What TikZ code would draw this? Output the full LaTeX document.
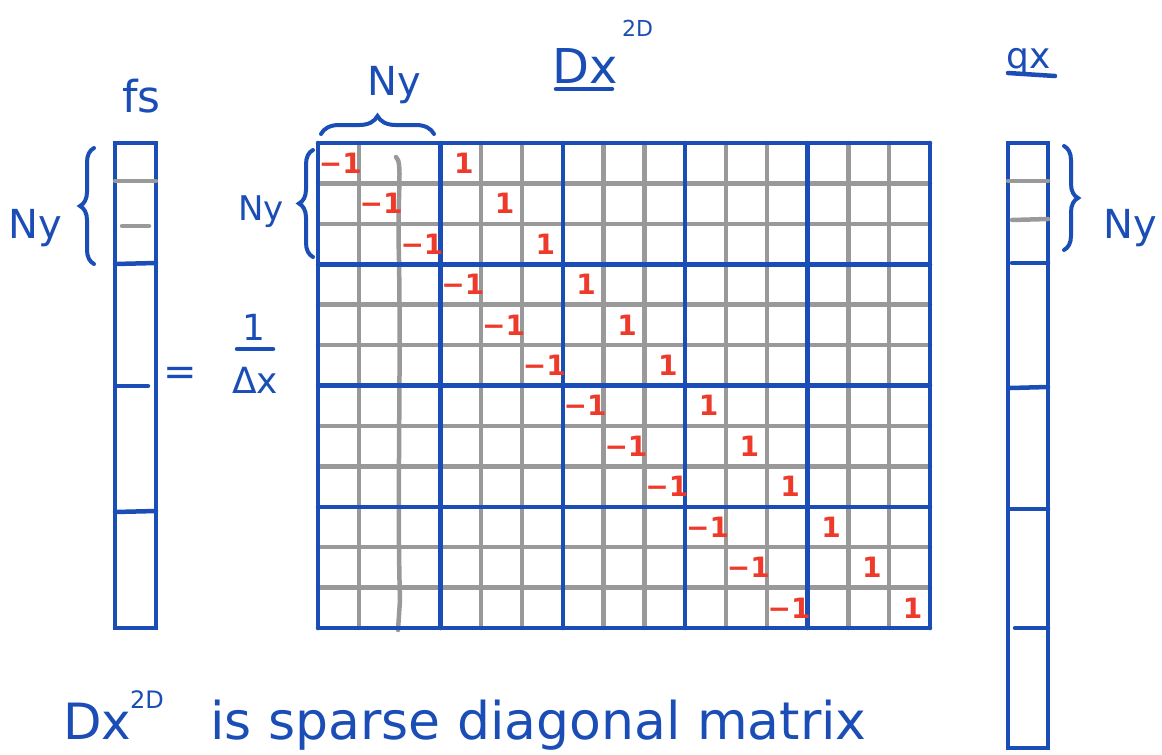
\documentclass[tikz,border=0pt]{standalone}
\usepackage{fontspec}
\setmainfont{DejaVu Sans}
\usetikzlibrary{decorations.pathreplacing}
\definecolor{pblue}{HTML}{1A4DB5}
\definecolor{pred}{HTML}{EE3A2A}
\definecolor{pgray}{HTML}{999999}
\begin{document}
\begin{tikzpicture}[x=1pt,y=-1pt,
  bl/.style={pblue, line width=4.5pt, line cap=round},
  gr/.style={pgray, line width=4.5pt, line cap=round},
  lab/.style={text=pblue, inner sep=0pt, anchor=base west},
  ent/.style={text=pred, inner sep=0pt, font=\fontsize{28}{28}\selectfont\bfseries},
  brc/.style={pblue, line width=4pt, line cap=round, decorate, decoration={brace, amplitude=#1}},
  brc/.default=14pt]
\useasboundingbox (0,0) rectangle (1162,755);

% ---- matrix grid: gray lines ----
\foreach \i in {1,4,5,7,8,10,11,13,14}
  \draw[gr] ({318+\i*40.8},143) -- ({318+\i*40.8},628);
\draw[gr] (396,157) .. controls (403,163) and (397,190) .. (399,260)
  .. controls (401,380) and (397,500) .. (400,600) -- (398,630);
\foreach \j in {1,2,4,5,7,8,10,11}
  \draw[gr] (318,{143+\j*40.42}) -- (930,{143+\j*40.42});
% ---- matrix grid: blue block lines ----
\foreach \i in {0,3,6,9,12,15}
  \draw[bl] ({318+\i*40.8},143) -- ({318+\i*40.8},628);
\foreach \j in {0,3,6,9,12}
  \draw[bl] (318,{143+\j*40.42}) -- (930,{143+\j*40.42});

% ---- entries ----
\foreach \i in {0,...,11}{
  \node[ent] (m\i) at ({318+(\i+0.5)*40.8+2},{143+(\i+0.5)*40.42}) {−1};
  \node[ent] (p\i) at ({318+(\i+3.5)*40.8+3},{143+(\i+0.5)*40.42}) {1};
}

% ---- fs vector ----
\node[draw=pblue, line width=4.5pt, minimum width=41pt, minimum height=485pt, inner sep=0pt] (fsv) at (135.5,385.5) {};
\draw[gr] (115,181) -- (156,181);
\draw[gr] (122,226) -- (149,226);
\draw[bl] (115,264) -- (156,263);
\draw[bl] (117,386) -- (148,386);
\draw[bl] (115,512) -- (156,511);

% ---- qx vector ----
\node[draw=pblue, line width=4.5pt, minimum width=40pt, minimum height=605pt, inner sep=0pt] (qxv) at (1028,445.5) {};
\draw[gr] (1008,181) -- (1048,181);
\draw[gr] (1012,220) -- (1048,219);
\draw[bl] (1012,263) -- (1048,263);
\draw[bl] (1010,388) -- (1048,387);
\draw[bl] (1010,509) -- (1048,509);
\draw[bl] (1015,628) -- (1048,628);

% ---- labels ----
\node[lab, font=\fontsize{44}{44}\selectfont] (fs) at (122,112) {fs};
\node[lab, font=\fontsize{40}{40}\selectfont] (ny1) at (8,238) {Ny};
\node[lab, font=\fontsize{34}{34}\selectfont] (ny2) at (238,220) {Ny};
\node[lab, font=\fontsize{40}{40}\selectfont] (ny3) at (367,95) {Ny};
\node[lab, font=\fontsize{40}{40}\selectfont] (ny4) at (1103,238) {Ny};
\node[lab, font=\fontsize{48}{48}\selectfont] (dx) at (552,83) {Dx};
\node[lab, font=\fontsize{22}{22}\selectfont] (dxs) at (622,36) {2D};
\draw[bl] (556,89) -- (612,89);
\node[lab, font=\fontsize{36}{36}\selectfont] (qx) at (1006,68) {qx};
\draw[bl] (1008,73) -- (1055,76);

\node[lab, font=\fontsize{40}{40}\selectfont] (eq) at (163,385) {=};
\node[text=pblue, inner sep=0pt, font=\fontsize{36}{36}\selectfont] (one) at (254,327) {1};
\coordinate (barl) at (237,349);
\coordinate (barr) at (273,349);
\draw[bl] (barl) -- (barr);
\node[text=pblue, inner sep=0pt, font=\fontsize{36}{36}\selectfont] (dlx) at (255,380) {Δx};

% ---- braces ----
\coordinate (b1a) at (94,264); \coordinate (b1b) at (94,148);
\draw[brc] (b1a) -- (b1b);
\coordinate (b2a) at (313,257); \coordinate (b2b) at (313,150);
\draw[brc] (b2a) -- (b2b);
\coordinate (b3a) at (321,134); \coordinate (b3b) at (434,134);
\draw[brc=18pt] (b3a) -- (b3b);
\coordinate (b4a) at (1064,146); \coordinate (b4b) at (1064,250);
\draw[brc] (b4a) -- (b4b);

% ---- bottom caption ----
\node[lab, font=\fontsize{50}{50}\selectfont] (cdx) at (63,739) {Dx};
\node[lab, font=\fontsize{24}{24}\selectfont] (cdxs) at (130,708) {2D};
\node[lab, font=\fontsize{52}{52}\selectfont] (cap) at (210,739) {is sparse diagonal matrix};
\end{tikzpicture}
\end{document}
